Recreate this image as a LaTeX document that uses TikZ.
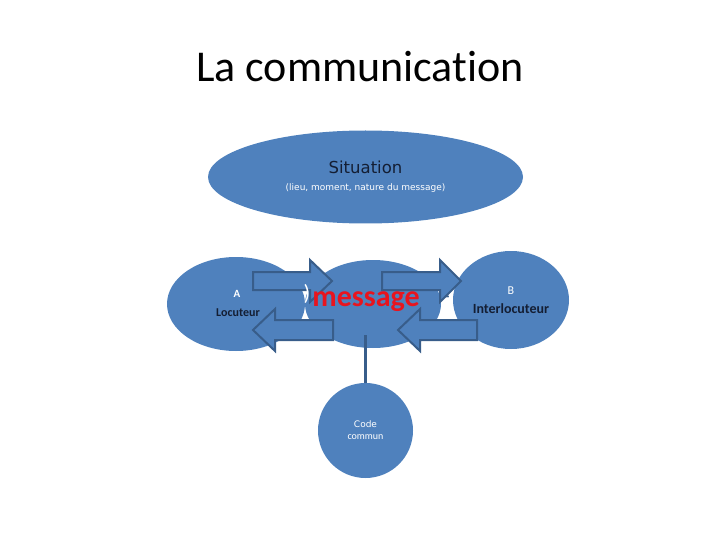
\documentclass[tikz,border=0pt]{standalone}
\usepackage{fontspec}
\setmainfont{Carlito}[Ligatures=NoCommon]
\newfontfamily\verd{DejaVu Sans}
\usepackage{tikz}
\usetikzlibrary{shapes.geometric}
\definecolor{officeblue}{HTML}{4F81BD}
\definecolor{officeline}{HTML}{385D8A}
\definecolor{navytext}{HTML}{141E33}
\definecolor{msgred}{HTML}{E8141E}

\begin{document}
\begin{tikzpicture}[x=1pt,y=-1pt,
  bubble/.style={ellipse,fill=officeblue,draw=none,inner sep=0pt},
  blockarrow/.style={fill=officeblue,draw=officeline,line width=2pt,line join=miter},
  whitetxt/.style={text=white,inner sep=0pt}]
\useasboundingbox (0,0) rectangle (720,540);
% titre
\node[inner sep=0pt] (title) at (360,67) {\fontsize{44}{52}\selectfont La communication};
% bulles
\node[bubble,minimum width=315pt,minimum height=93pt] (situation) at (365.5,177) {};
\node[bubble,minimum width=138pt,minimum height=94pt] (locuteur) at (236,304) {};
\node[bubble,minimum width=136pt,minimum height=88pt] (message) at (373,304) {};
\node[bubble,minimum width=116pt,minimum height=98pt] (interloc) at (511,300) {};
\node[circle,fill=officeblue,inner sep=0pt,minimum size=95pt] (code) at (365.5,430.5) {};
% trait vers le code
\coordinate (msgfoot) at (365.5,335);
\draw[officeline,line width=2.5pt] (msgfoot) -- (code.north);
% fleches
\draw[blockarrow] (253,272) -- (310,272) -- (310,260) -- (332,281) -- (310,302) -- (310,290) -- (253,290) -- cycle;
\draw[blockarrow] (382,272) -- (440,272) -- (440,260) -- (461,281) -- (440,302) -- (440,290) -- (382,290) -- cycle;
\draw[blockarrow] (333,320) -- (275,320) -- (275,309) -- (253,330) -- (275,351) -- (275,340) -- (333,340) -- cycle;
\draw[blockarrow] (477,320) -- (420,320) -- (420,309) -- (398,330) -- (420,351) -- (420,340) -- (477,340) -- cycle;
% textes
\node[inner sep=0pt,text=navytext] (sittxt) at (situation.center |- 0,167) {\verd\fontsize{16.5}{18}\selectfont Situation};
\node[whitetxt] (sitsub) at (situation.center |- 0,188) {\verd\fontsize{9}{10}\selectfont (lieu, moment, nature du message)};
\node[whitetxt] (atxt) at (237,294) {\fontsize{11}{13}\selectfont\bfseries A};
\node[inner sep=0pt,text=navytext] (loctxt) at (238,313) {\fontsize{12}{14}\selectfont\bfseries Locuteur};
\node[whitetxt] (btxt) at (511,291) {\fontsize{12}{14}\selectfont B};
\node[inner sep=0pt,text=navytext] (interlotxt) at (511,309) {\fontsize{14}{16}\selectfont\bfseries Interlocuteur};
\node[inner sep=0pt,text=msgred] (msgtxt) at (366,302) {\fontsize{30}{34}\selectfont\bfseries message};
\node[whitetxt] (paren) at (307,294) {\fontsize{22}{26}\selectfont )};
\node[inner sep=0pt,text=officeline] (dash) at (447,299) {\fontsize{16}{18}\selectfont\bfseries -};
\node[whitetxt,align=center] (codetxt) at (code.center) {\verd\fontsize{9}{13}\selectfont Code\\commun};
\end{tikzpicture}
\end{document}
